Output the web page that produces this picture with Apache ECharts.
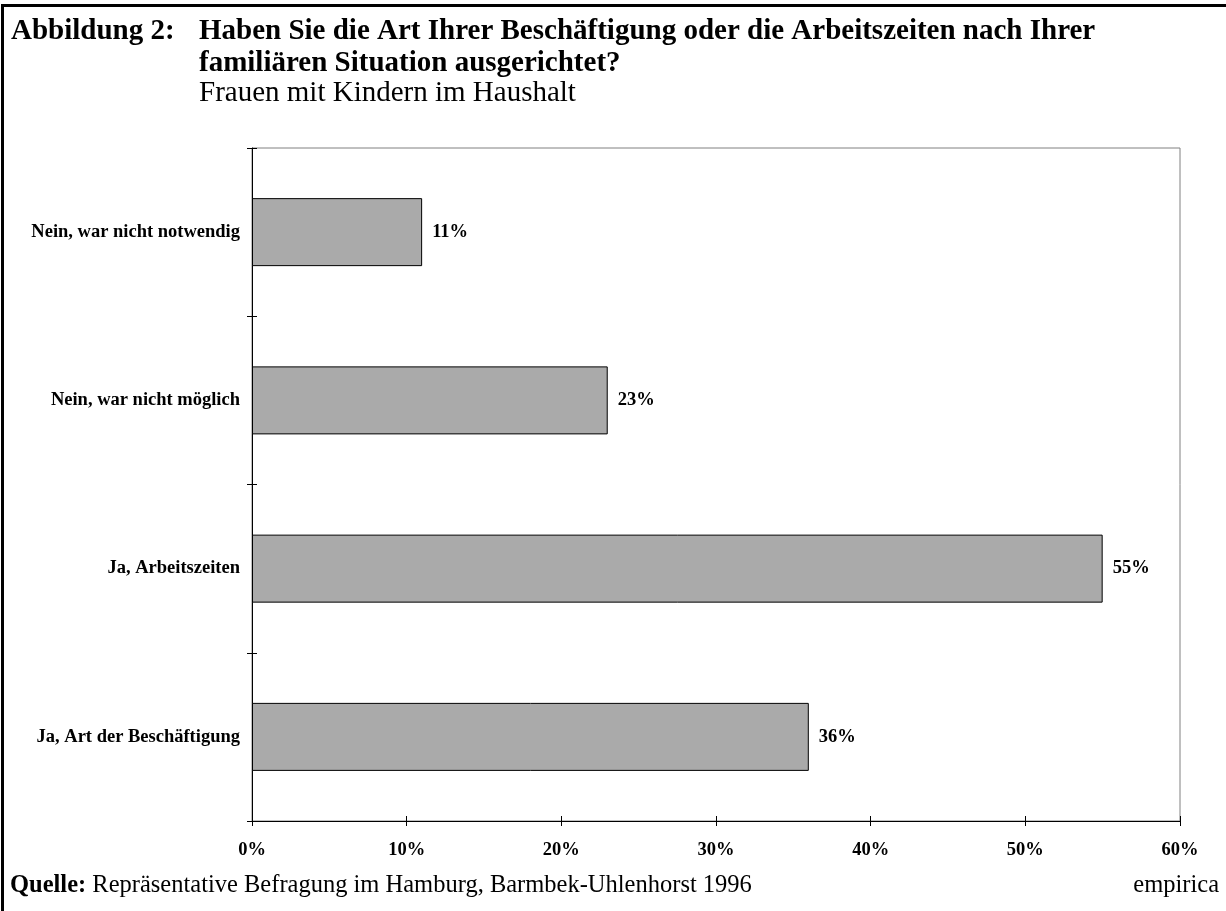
<!DOCTYPE html>
<html>
<head>
<meta charset="utf-8">
<title>Abbildung 2</title>
<script src="https://cdn.jsdelivr.net/npm/echarts@6/dist/echarts.min.js"></script>
<style>
  html, body { margin: 0; padding: 0; background: #fff; }
  #chart { width: 1226px; height: 911px; }
</style>
</head>
<body>
<div id="chart"></div>
<script>
// Antwortkategorien (von oben nach unten) und Anteile in Prozent
var categories = ['Nein, war nicht notwendig', 'Nein, war nicht möglich', 'Ja, Arbeitszeiten', 'Ja, Art der Beschäftigung'];
var shares = [11, 23, 55, 36];
var xTicks = {min: 0, max: 60, interval: 10};

var serif = "'Liberation Serif', 'Times New Roman', serif";

var myChart = echarts.init(document.getElementById('chart'));

var option = {
    backgroundColor: '#fff',
    animation: false,
    textStyle: { fontFamily: serif, color: '#000' },
    title: [
        {
            text: 'Abbildung 2:',
            left: 11, top: 16, padding: 0,
            textStyle: { fontFamily: serif, fontSize: 29, fontWeight: 'bold', color: '#000', lineHeight: 32 }
        },
        {
            text: 'Haben Sie die Art Ihrer Beschäftigung oder die Arbeitszeiten nach Ihrer\nfamiliären Situation ausgerichtet?',
            left: 199, top: 16, padding: 0,
            textStyle: { fontFamily: serif, fontSize: 29, fontWeight: 'bold', color: '#000', lineHeight: 32 }
        },
        {
            text: 'Frauen mit Kindern im Haushalt',
            left: 199, top: 77, padding: 0,
            textStyle: { fontFamily: serif, fontSize: 29, fontWeight: 'normal', color: '#000', lineHeight: 32 }
        },
        {
            text: '{b|Quelle:} Repräsentative Befragung im Hamburg, Barmbek-Uhlenhorst 1996',
            left: 10, top: 872, padding: 0,
            textStyle: {
                fontFamily: serif, fontSize: 24.5, fontWeight: 'normal', color: '#000', lineHeight: 28,
                rich: { b: { fontFamily: serif, fontSize: 24.5, fontWeight: 'bold', color: '#000' } }
            }
        },
        {
            text: 'empirica',
            right: 7, top: 872, padding: 0,
            textStyle: { fontFamily: serif, fontSize: 24.5, fontWeight: 'normal', color: '#000', lineHeight: 28 }
        }
    ],
    graphic: [
        { type: 'rect', shape: { x: 1, y: 4, width: 1225, height: 3 }, style: { fill: '#000' }, silent: true },
        { type: 'rect', shape: { x: 1, y: 4, width: 3, height: 907 }, style: { fill: '#000' }, silent: true }
    ],
    grid: {
        left: 252, top: 148, right: 46, bottom: 90,
        containLabel: false,
        outerBoundsMode: 'none',
        show: true,
        backgroundColor: 'transparent',
        borderColor: '#808080',
        borderWidth: 1
    },
    xAxis: [
        {
            type: 'value',
            min: xTicks.min, max: xTicks.max, interval: xTicks.interval,
            axisLine: { show: true, lineStyle: { color: '#000', width: 1 } },
            axisTick: { show: true, inside: false, length: 5, lineStyle: { color: '#000' } },
            splitLine: { show: false },
            axisLabel: {
                formatter: '{value}%', margin: 20,
                fontFamily: serif, fontSize: 18.5, fontWeight: 'bold', color: '#000'
            }
        },
        {
            type: 'value',
            position: 'bottom',
            min: xTicks.min, max: xTicks.max, interval: xTicks.interval,
            axisLine: { show: false },
            axisTick: { show: true, inside: true, length: 5, lineStyle: { color: '#000' } },
            splitLine: { show: false },
            axisLabel: { show: false }
        }
    ],
    yAxis: [
        {
            type: 'category',
            data: categories,
            inverse: true,
            axisLine: { show: true, lineStyle: { color: '#000', width: 1 } },
            axisTick: { show: true, inside: false, length: 5, lineStyle: { color: '#000' } },
            splitLine: { show: false },
            axisLabel: {
                margin: 12,
                fontFamily: serif, fontSize: 18.5, fontWeight: 'bold', color: '#000'
            }
        },
        {
            type: 'category',
            position: 'left',
            data: categories,
            inverse: true,
            axisLine: { show: false },
            axisTick: { show: true, inside: true, length: 5, lineStyle: { color: '#000' } },
            splitLine: { show: false },
            axisLabel: { show: false }
        }
    ],
    series: [
        {
            type: 'bar',
            xAxisIndex: 0,
            yAxisIndex: 0,
            data: shares,
            barWidth: 68,
            itemStyle: { color: '#aaaaaa', borderColor: '#000', borderWidth: 1 },
            label: {
                show: true,
                position: 'right',
                distance: 10,
                formatter: '{c}%',
                fontFamily: serif, fontSize: 18.5, fontWeight: 'bold', color: '#000'
            }
        }
    ]
};

myChart.setOption(option);
</script>
</body>
</html>
